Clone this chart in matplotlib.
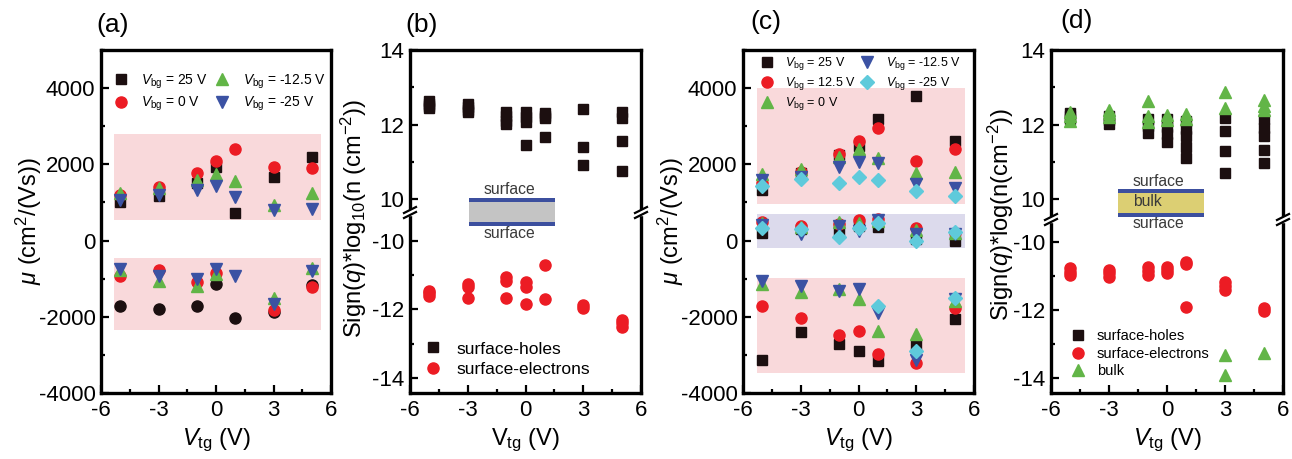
import numpy as np
import matplotlib
matplotlib.use("Agg")
import matplotlib.pyplot as plt
from matplotlib.lines import Line2D
from matplotlib.patches import Rectangle
from matplotlib.ticker import MultipleLocator

plt.rcParams['font.family'] = ['Liberation Sans', 'DejaVu Sans']
plt.rcParams['mathtext.fontset'] = 'custom'
plt.rcParams['mathtext.rm'] = 'Liberation Sans'
plt.rcParams['mathtext.it'] = 'Liberation Sans:italic'
plt.rcParams['mathtext.bf'] = 'Liberation Sans:bold'
plt.rcParams['axes.unicode_minus'] = False

nan = np.nan
vtg = [-5, -3, -1, 0, 1, 3, 5]

# (a) mobility, two-carrier fit
a_labels = ['25 V', '0 V', '-12.5 V', '-25 V']
a_hole_25 = [1000, 1160, 1510, 1940, 720, 1680, 2180]
a_hole_0 = [1200, 1400, 1770, 2090, 2400, 1930, 1900]
a_hole_m125 = [1250, 1380, 1580, 1750, 1570, 940, 1260]
a_hole_m25 = [1070, 1200, 1330, 1420, 1140, 790, 830]
a_elec_25 = [-1730, -1790, -1730, -1150, -2030, -1870, -1160]
a_elec_0 = [-930, -780, -1090, -860, nan, -1820, -1210]
a_elec_m125 = [-780, -1060, -1180, -890, nan, -1500, -710]
a_elec_m25 = [-740, -930, -1000, -740, -930, -1670, -800]
a_band_x = [-5.3, 5.5]
a_band_hole = [550, 2800]
a_band_elec = [-2350, -470]

# (b) carrier densities, two-carrier fit
b_hole_vtg = [-5, -5, -5, -5, -3, -3, -3, -3, -1, -1, -1, -1, 0, 0, 0, 0,
              1, 1, 1, 1, 3, 3, 3, 5, 5, 5, 5]
b_hole_n = [12.62, 12.55, 12.5, 12.45, 12.55, 12.47, 12.4, 12.33, 12.33, 12.22,
            12.1, 12.02, 12.33, 12.2, 12.08, 11.46, 12.32, 12.24, 12.18, 11.66,
            12.41, 11.4, 10.92, 12.33, 12.19, 11.57, 10.76]
b_elec_vtg = [-5, -5, -5, -3, -3, -3, -1, -1, -1, 0, 0, 0, 1, 1, 3, 3, 5, 5, 5]
b_elec_n = [-11.45, -11.53, -11.61, -11.26, -11.34, -11.65, -11.06, -11.16,
            -11.67, -11.19, -11.34, -11.83, -10.7, -11.7, -11.87, -11.97,
            -12.31, -12.41, -12.51]

# (c) mobility, three-carrier fit
c_labels = ['25 V', '12.5 V', '0 V', '-12.5 V', '-25 V']
c_up_25 = [1330, 1780, 2250, 2470, 3190, 3800, 2600]
c_up_125 = [1520, 1800, 2270, 2620, 2960, 2100, 2400]
c_up_0 = [1750, 1870, 2200, 2400, 2160, 1770, 1790]
c_up_m125 = [1600, 1680, 1940, 2070, 2030, 1480, 1380]
c_up_m25 = [1440, 1620, 1510, 1680, 1600, 1290, 1160]
c_mid_25 = [200, 300, 240, 370, 360, 40, -20]
c_mid_125 = [480, 370, 440, 550, 570, 330, 200]
c_mid_0 = [460, 360, 480, 460, 500, 280, 200]
c_mid_m125 = [420, 160, 370, 240, 530, 160, 180]
c_mid_m25 = [330, 300, 100, 330, 460, 0, 220]
c_lo_25 = [-3130, -2410, -2720, -2890, -3150, -2750, -2050]
c_lo_125 = [-1720, -2020, -2480, -2380, -2980, -3200, -1760]
c_lo_0 = [-1150, -1350, -1280, -1540, -2370, -2460, -1580]
c_lo_m125 = [-1060, -1180, -1320, -1280, -1890, -3130, -1540]
c_lo_m25 = [nan, nan, nan, nan, -1730, -2890, -1500]
c_band_x = [-5.28, 5.55]
c_band_up = [950, 4000]
c_band_mid = [-190, 690]
c_band_lo = [-3480, -980]

# (d) carrier densities, three-carrier fit
d_hole_vtg = [-5, -5, -5, -3, -3, -3, -1, -1, -1, 0, 0, 0, 0, 1, 1, 1, 1, 1,
              3, 3, 3, 3, 5, 5, 5, 5, 5]
d_hole_n = [12.32, 12.22, 12.14, 12.23, 12.12, 12.02, 12.14, 11.96, 11.78,
            12.14, 11.94, 11.74, 11.53, 12.09, 11.88, 11.69, 11.39, 11.1,
            12.18, 11.82, 11.28, 10.69, 12.14, 11.92, 11.69, 11.32, 10.97]
d_elec_vtg = [-5, -5, -5, -3, -3, -3, -1, -1, -1, 0, 0, 0, 1, 1, 1, 3, 3, 3, 5, 5]
d_elec_n = [-10.77, -10.88, -10.99, -10.82, -10.92, -11.03, -10.75, -10.87,
            -10.99, -10.75, -10.84, -10.92, -10.6, -10.65, -11.91, -11.18,
            -11.3, -11.43, -11.95, -12.03]
d_bulk_vtg = [-5, -5, -5, -3, -3, -3, -1, -1, -1, 0, 0, 1, 1, 3, 3, 3, 3, 5, 5, 5, 5]
d_bulk_n = [12.33, 12.22, 12.1, 12.38, 12.3, 12.2, 12.63, 12.22, 12.08, 12.25,
            12.13, 12.28, 12.14, 12.86, 12.45, -13.32, -13.92, 12.65, 12.5,
            12.4, -13.27]

BLK = '#1c0f10'
RED = '#ec1c24'
GRN = '#62b547'
BLU = '#3b52a3'
CYN = '#5fcadb'
PINK = '#f9d9db'
LAV = '#dcdaec'
MS = {'s': 7.3, 'o': 8, '^': 8.5, 'v': 8.5, 'D': 6.8}

W, H = 1292, 459
fig = plt.figure(figsize=(W / 100, H / 100), dpi=100)


def add_ax(x0, x1, ytop, ybot):
    return fig.add_axes([x0 / W, 1 - ybot / H, (x1 - x0) / W, (ybot - ytop) / H])


def style(ax):
    for s in ax.spines.values():
        s.set_linewidth(2.4)
    ax.tick_params(which='both', direction='in', top=False, right=False,
                   width=1.6, labelsize=16)
    ax.tick_params(which='major', length=6, pad=4)
    ax.tick_params(which='minor', length=3)
    ax.tick_params(axis='x', pad=5)
    ax.set_xlim(-6, 6)
    ax.xaxis.set_major_locator(MultipleLocator(3))
    ax.xaxis.set_minor_locator(MultipleLocator(1.5))


def pts(ax, x, y, m, c, label=None):
    ax.plot(x, y, ls='none', marker=m, ms=MS[m], color=c, mec=c, label=label)


def fig_text(x, y, s, **kw):
    fig.text(x / W, 1 - y / H, s, **kw)


def brk(x, y):
    fig.add_artist(Rectangle(((x - 3) / W, 1 - (y + 2.5) / H), 6 / W, 5 / H,
                             transform=fig.transFigure, color='white', zorder=5))
    for dy in (-2.5, 2.5):
        fig.add_artist(Line2D([(x - 6) / W, (x + 6) / W],
                              [1 - (y + dy + 3) / H, 1 - (y + dy - 3) / H],
                              transform=fig.transFigure, color='black', lw=1.6, zorder=6))


def broken(x0, x1, ybrk_top, ybrk_bot, ylim_up, ylim_lo):
    axu = add_ax(x0, x1, 50, ybrk_top)
    axl = add_ax(x0, x1, ybrk_bot, 393)
    for ax in (axu, axl):
        style(ax)
        ax.yaxis.set_major_locator(MultipleLocator(2))
        ax.yaxis.set_minor_locator(MultipleLocator(1))
    axu.spines['bottom'].set_visible(False)
    axu.tick_params(which='both', bottom=False, labelbottom=False)
    axl.spines['top'].set_visible(False)
    axu.set_ylim(*ylim_up)
    axl.set_ylim(*ylim_lo)
    ym = (ybrk_top + ybrk_bot) / 2
    brk(x0, ym)
    brk(x1, ym)
    return axu, axl


# ---------------- (a)
ax = add_ax(101, 331, 50, 393)
style(ax)
ax.set_ylim(-4000, 5000)
ax.yaxis.set_major_locator(MultipleLocator(2000))
ax.yaxis.set_minor_locator(MultipleLocator(1000))
ax.fill_between(a_band_x, *a_band_hole, color=PINK, lw=0)
ax.fill_between(a_band_x, *a_band_elec, color=PINK, lw=0)
a_holes = [a_hole_25, a_hole_0, a_hole_m125, a_hole_m25]
a_elecs = [a_elec_25, a_elec_0, a_elec_m125, a_elec_m25]
a_mk_h = ['s', 'o', '^', 'v']
a_mk_e = ['o', 'o', '^', 'v']
a_col = [BLK, RED, GRN, BLU]
for h, e, mh, me, c, lab in zip(a_holes, a_elecs, a_mk_h, a_mk_e, a_col, a_labels):
    pts(ax, vtg, h, mh, c, r'$V_{\rm bg}$ = ' + lab)
    pts(ax, vtg, e, me, c)
ax.legend(loc='upper left', bbox_to_anchor=(0.055, 0.935), ncol=2, frameon=False,
          fontsize=10, borderpad=0, borderaxespad=0, handlelength=1.0,
          handletextpad=1.0, columnspacing=0.5, labelspacing=0.3, numpoints=1)
fig_text(29, 221.5, r'$\mu$ (cm$^2$/(Vs))', rotation=90, ha='center', va='center', fontsize=17)
fig_text(216, 445, r'$V_{\rm tg}$ (V)', ha='center', va='baseline', fontsize=17)
fig_text(113, 25, '(a)', ha='center', va='center', fontsize=19)

# ---------------- (b)
axu, axl = broken(410, 641, 210, 215, (9.71, 14), (-14.45, -9.23))
pts(axu, b_hole_vtg, b_hole_n, 's', BLK)
pts(axl, b_elec_vtg, b_elec_n, 'o', RED)
hb = [Line2D([], [], ls='none', marker='s', ms=MS['s'], color=BLK),
      Line2D([], [], ls='none', marker='o', ms=MS['o'], color=RED)]
axl.legend(hb, ['surface-holes', 'surface-electrons'], loc='upper left',
           bbox_to_anchor=(0.062, 0.29), frameon=False, fontsize=12.5, borderpad=0,
           borderaxespad=0, handlelength=1.0, handletextpad=0.85, labelspacing=0.3)
fig_text(354, 218, r'Sign($q$)*log$_{10}$(n (cm$^{-2}$))', rotation=90,
         ha='center', va='center', fontsize=17)
fig_text(525.5, 445, r'V$_{\rm tg}$ (V)', ha='center', va='baseline', fontsize=17)
fig_text(422, 25, '(b)', ha='center', va='center', fontsize=19)
# layer sketch
fig.add_artist(Rectangle((469 / W, 1 - 226 / H), 86 / W, 28 / H, transform=fig.transFigure,
                         facecolor='#c4c4c4', edgecolor='none', zorder=7))
for yb in (198, 222):
    fig.add_artist(Rectangle((469 / W, 1 - (yb + 4) / H), 86 / W, 4 / H,
                             transform=fig.transFigure, facecolor='#3c4f9e',
                             edgecolor='none', zorder=8))
fig_text(509, 190, 'surface', ha='center', va='center', fontsize=11.3, color='#3a3a3a')
fig_text(509, 233, 'surface', ha='center', va='center', fontsize=11.3, color='#3a3a3a')

# ---------------- (c)
ax = add_ax(743, 974, 50, 393)
style(ax)
ax.set_ylim(-4000, 5000)
ax.yaxis.set_major_locator(MultipleLocator(2000))
ax.yaxis.set_minor_locator(MultipleLocator(1000))
ax.fill_between(c_band_x, *c_band_up, color=PINK, lw=0)
ax.fill_between(c_band_x, *c_band_mid, color=LAV, lw=0)
ax.fill_between(c_band_x, *c_band_lo, color=PINK, lw=0)
c_ups = [c_up_25, c_up_125, c_up_0, c_up_m125, c_up_m25]
c_mids = [c_mid_25, c_mid_125, c_mid_0, c_mid_m125, c_mid_m25]
c_los = [c_lo_25, c_lo_125, c_lo_0, c_lo_m125, c_lo_m25]
c_mk = ['s', 'o', '^', 'v', 'D']
c_col = [BLK, RED, GRN, BLU, CYN]
for u, md, lo, m, c, lab in zip(c_ups, c_mids, c_los, c_mk, c_col, c_labels):
    pts(ax, vtg, u, m, c, r'$V_{\rm bg}$ = ' + lab)
    pts(ax, vtg, md, m, c)
    pts(ax, vtg, lo, m, c)
ax.legend(loc='upper left', bbox_to_anchor=(0.075, 0.985), ncol=2, frameon=False,
          fontsize=9, borderpad=0, borderaxespad=0, handlelength=1.0,
          handletextpad=1.0, columnspacing=0.4, labelspacing=0.25, numpoints=1)
fig_text(671, 221.5, r'$\mu$ (cm$^2$/(Vs))', rotation=90, ha='center', va='center', fontsize=17)
fig_text(858, 445, r'$V_{\rm tg}$ (V)', ha='center', va='baseline', fontsize=17)
fig_text(766, 22, '(c)', ha='center', va='center', fontsize=19)

# ---------------- (d)
axu, axl = broken(1051, 1283, 217, 222, (9.52, 14), (-14.45, -9.42))
pts(axu, d_hole_vtg, d_hole_n, 's', BLK)
bv = np.array(d_bulk_vtg)
bn = np.array(d_bulk_n)
pts(axu, bv[bn > 0], bn[bn > 0], '^', GRN)
pts(axl, d_elec_vtg, d_elec_n, 'o', RED)
pts(axl, bv[bn < 0], bn[bn < 0], '^', GRN)
hd = [Line2D([], [], ls='none', marker='s', ms=MS['s'], color=BLK),
      Line2D([], [], ls='none', marker='o', ms=MS['o'], color=RED),
      Line2D([], [], ls='none', marker='^', ms=MS['^'], color=GRN)]
axl.legend(hd, ['surface-holes', 'surface-electrons', 'bulk'], loc='upper left',
           bbox_to_anchor=(0.085, 0.374), frameon=False, fontsize=10.5, borderpad=0,
           borderaxespad=0, handlelength=1.0, handletextpad=0.8, labelspacing=0.25)
fig_text(1001, 214, r'Sign($q$)*log(n(cm$^{-2}$))', rotation=90,
         ha='center', va='center', fontsize=17)
fig_text(1167, 445, r'$V_{\rm tg}$ (V)', ha='center', va='baseline', fontsize=17)
fig_text(1077, 21, '(d)', ha='center', va='center', fontsize=19)
fig.add_artist(Rectangle((1118 / W, 1 - 217 / H), 86 / W, 28 / H, transform=fig.transFigure,
                         facecolor='#dccf73', edgecolor='none', zorder=7))
for yb in (189, 213):
    fig.add_artist(Rectangle((1118 / W, 1 - (yb + 4) / H), 86 / W, 4 / H,
                             transform=fig.transFigure, facecolor='#3c4f9e',
                             edgecolor='none', zorder=8))
fig_text(1158.5, 181, 'surface', ha='center', va='center', fontsize=11.3, color='#3a3a3a')
fig_text(1133, 202, 'bulk', ha='left', va='center', fontsize=11.3, color='#3a3a3a', zorder=9)
fig_text(1158.5, 223, 'surface', ha='center', va='center', fontsize=11.3, color='#3a3a3a')

fig.savefig('out.png', dpi=100)
